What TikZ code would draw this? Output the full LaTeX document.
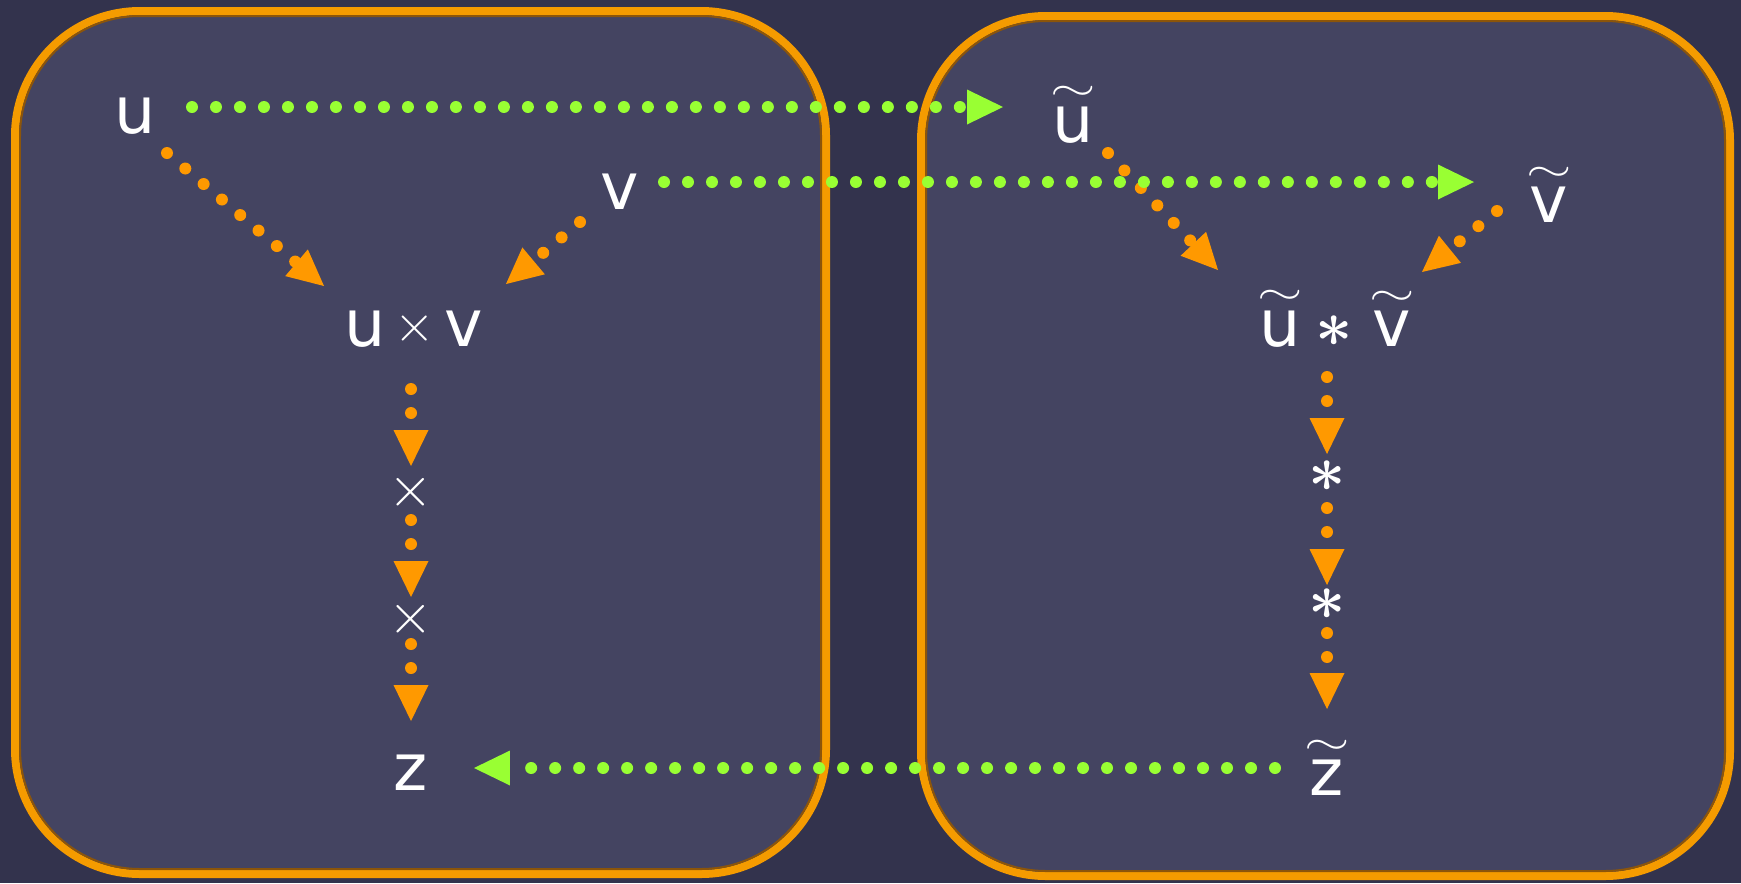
\documentclass[tikz,border=0pt]{standalone}
\usepackage{fix-cm}
\usepackage{graphicx}
\usepackage{fontspec}
\setmainfont{DejaVu Sans}
\usetikzlibrary{arrows.meta}
\definecolor{bg}{RGB}{51,51,77}
\definecolor{panel}{RGB}{68,68,97}
\definecolor{rim}{RGB}{245,155,0}
\definecolor{rimdark}{RGB}{140,85,10}
\definecolor{arrorange}{RGB}{255,153,0}
\definecolor{arrgreen}{RGB}{153,255,51}
\newcommand{\tld}[1]{\leavevmode\vbox{\offinterlineskip\halign{\hfil##\hfil\cr\smash{\scalebox{0.9}[0.6]{$\sim$}}\cr\noalign{\kern 3pt}#1\cr}}}
\newcommand{\tms}[1]{\raisebox{0.1cm}{\scalebox{#1}{$\times$}}}
\newcommand{\bast}{{\boldmath$\ast$}}
\begin{document}
\begin{tikzpicture}[x=0.02cm,y=-0.02cm,
  lbl/.style={text=white,inner sep=0pt,anchor=base,font=\fontsize{37}{44}\selectfont},
  dotline/.style={line width=0.24cm,line cap=round,dash pattern=on 0pt off 0.48cm},
  garrow/.style={dotline,draw=arrgreen,-{Triangle[length=0.72cm,width=0.7cm,line width=0pt]}},
  oarrow/.style={dotline,draw=arrorange,-{Triangle[length=0.72cm,width=0.7cm,line width=0pt]}},
  panelbox/.style={fill=panel,draw=rim,line width=0.16cm,rounded corners=2.5cm},
  paneledge/.style={draw=rimdark,line width=0.04cm,rounded corners=2.4cm}]
\fill[bg] (0,0) rectangle (1741,883);
\draw[panelbox] (15,11) rectangle (826,874);
\draw[paneledge] (20,16) rectangle (821,869);
\draw[panelbox] (921,16) rectangle (1730,876);
\draw[paneledge] (926,21) rectangle (1725,871);

\node[lbl] (u) at (135,133) {u};
\node[lbl] (ut) at (1073,142) {\tld{u}};
\node[lbl] (v) at (620,209) {v};
\node[lbl] (vt) at (1549,222) {\tld{v}};
\node[lbl] (uv) at (414,346) {u\hspace{0.16cm}\tms{0.8}\hspace{0.2cm}v};
\node[lbl] (uvt) at (1336,346) {\tld{u}\hspace{0.26cm}\bast\hspace{0.32cm}\tld{v}};
\node[lbl] (x1) at (411,506) {\scalebox{0.88}{$\times$}};
\node[lbl] (x2) at (411,633) {\scalebox{0.88}{$\times$}};
\node[lbl] (z) at (411,790) {z};
\node[lbl] (s1) at (1327,491) {\bast};
\node[lbl] (s2) at (1327,619) {\bast};
\node[lbl] (zt) at (1327,795) {\tld{z}};

\draw[oarrow] ([shift={(32,20)}]u.base) -- ([shift={(-90,-60)}]uv.base);
\draw[oarrow] ([shift={(-40,13)}]v.base) -- ([shift={(92,-62)}]uv.base);
\draw[oarrow] ([shift={(35,11)}]ut.base) -- ([shift={(-118,-76)}]uvt.base);
\draw[oarrow] ([shift={(-52,-11)}]vt.base) -- ([shift={(86,-74)}]uvt.base);
\draw[oarrow] ([shift={(-3,43)}]uv.base) -- ([shift={(0,-40)}]x1.base);
\draw[oarrow] ([shift={(0,14)}]x1.base) -- ([shift={(0,-36)}]x2.base);
\draw[oarrow] ([shift={(0,11)}]x2.base) -- ([shift={(0,-69)}]z.base);
\draw[oarrow] ([shift={(-9,31)}]uvt.base) -- ([shift={(0,-37)}]s1.base);
\draw[oarrow] ([shift={(0,17)}]s1.base) -- ([shift={(0,-34)}]s2.base);
\draw[oarrow] ([shift={(0,14)}]s2.base) -- ([shift={(0,-86)}]zt.base);

\draw[garrow] ([shift={(57,-26)}]u.base) -- ([shift={(-70,-35)}]ut.base);
\draw[garrow] ([shift={(44,-27)}]v.base) -- ([shift={(-75,-40)}]vt.base);
\draw[garrow] ([shift={(-52,-27)}]zt.base) -- ([shift={(63,-22)}]z.base);
\end{tikzpicture}
\end{document}
